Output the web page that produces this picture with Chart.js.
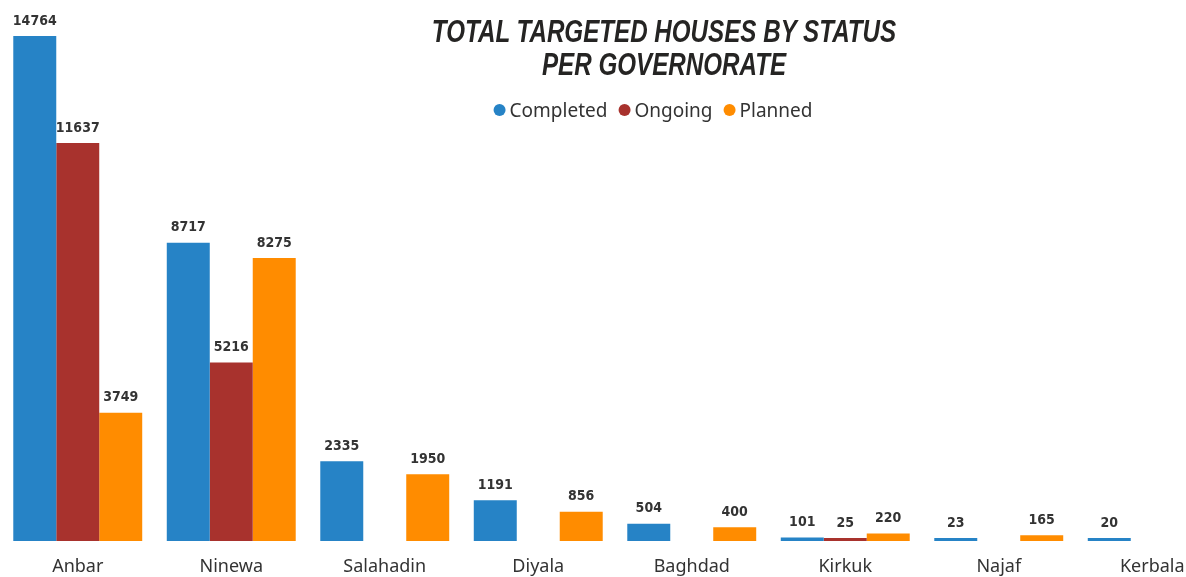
<!DOCTYPE html>
<html>
<head>
<meta charset="utf-8">
<script src="https://cdn.jsdelivr.net/npm/chart.js@4.4.1/dist/chart.umd.min.js"></script>
<style>
    html, body { margin: 0; padding: 0; background: #fff; overflow: hidden; width: 1186px; height: 577px; }
    #wrap { position: relative; width: 1186px; height: 577px; overflow: hidden; }
    #grafico { position: absolute; left: 0; top: 0; }
    #titulo {
        position: absolute; left: 664px; top: 15px; transform: translateX(-50%) scaleX(0.78);
        font-family: "Liberation Sans", Arial, sans-serif;
        font-weight: bold; font-style: italic; font-size: 31px; line-height: 33px;
        color: #252423; text-align: center; white-space: nowrap;
    }
    #legenda {
        position: absolute; left: 653px; top: 97px; transform: translateX(-50%);
        display: flex; align-items: center; white-space: nowrap;
        font-family: "Noto Sans", sans-serif; font-size: 19px; color: #333;
    }
    #legenda span.item { display: flex; align-items: center; margin-right: 11px; }
    #legenda span.item:last-child { margin-right: 0; }
    #legenda span.dot { width: 12px; height: 12px; border-radius: 50%; display: inline-block; margin-right: 4px; }
</style>
</head>
<body>
<div id="wrap">
    <canvas id="grafico" width="1229" height="577"></canvas>
    <div id="titulo">TOTAL TARGETED HOUSES BY STATUS<br>PER GOVERNORATE</div>
    <div id="legenda"></div>
</div>
<script>
// dados do gráfico
const governorates = ['Anbar', 'Ninewa', 'Salahadin', 'Diyala', 'Baghdad', 'Kirkuk', 'Najaf', 'Kerbala'];
const completed = [14764, 8717, 2335, 1191, 504, 101, 23, 20];
const ongoing = [11637, 5216, null, null, null, 25, null, null];
const planned = [3749, 8275, 1950, 856, 400, 220, 165, null];

const seriesNames = ['Completed', 'Ongoing', 'Planned'];
const seriesColors = ['#2683C6', '#A8322D', '#FF8C00'];

// legenda em HTML
const legenda = document.getElementById('legenda');
seriesNames.forEach((nome, i) => {
    const item = document.createElement('span');
    item.className = 'item';
    item.innerHTML = `<span class="dot" style="background:${seriesColors[i]}"></span>${nome}`;
    legenda.appendChild(item);
});

// rótulos acima das barras
const rotulosPlugin = {
    id: 'rotulos',
    afterDatasetsDraw(chart) {
        const ctx = chart.ctx;
        ctx.save();
        ctx.font = 'bold 14px "DejaVu Sans Condensed", sans-serif';
        ctx.fillStyle = '#333';
        ctx.textAlign = 'center';
        ctx.textBaseline = 'bottom';
        chart.data.datasets.forEach((ds, i) => {
            const meta = chart.getDatasetMeta(i);
            meta.data.forEach((bar, j) => {
                const v = ds.data[j];
                if (v === null || v === undefined) return;
                ctx.fillText(String(v), bar.x, bar.y - 8);
            });
        });
        ctx.restore();
    }
};

const series = [completed, ongoing, planned];

new Chart(document.getElementById('grafico').getContext('2d'), {
    type: 'bar',
    data: {
        labels: governorates,
        datasets: series.map((d, i) => ({
            label: seriesNames[i],
            data: d,
            backgroundColor: seriesColors[i],
            borderWidth: 0,
            minBarLength: 3,
            categoryPercentage: 0.84,
            barPercentage: 1
        }))
    },
    options: {
        responsive: false,
        animation: false,
        layout: { padding: { top: 36, left: 1, right: 0, bottom: 0 } },
        plugins: {
            legend: { display: false },
            title: { display: false },
            tooltip: { enabled: false }
        },
        scales: {
            x: {
                grid: { display: false, drawTicks: false },
                border: { display: false },
                ticks: {
                    padding: 15,
                    color: '#333',
                    font: { family: 'Noto Sans', size: 18 }
                },
                afterFit(scale) { scale.height = 36; }
            },
            y: {
                display: false,
                min: 0,
                max: 14764
            }
        }
    },
    plugins: [rotulosPlugin]
});
</script>
</body>
</html>
